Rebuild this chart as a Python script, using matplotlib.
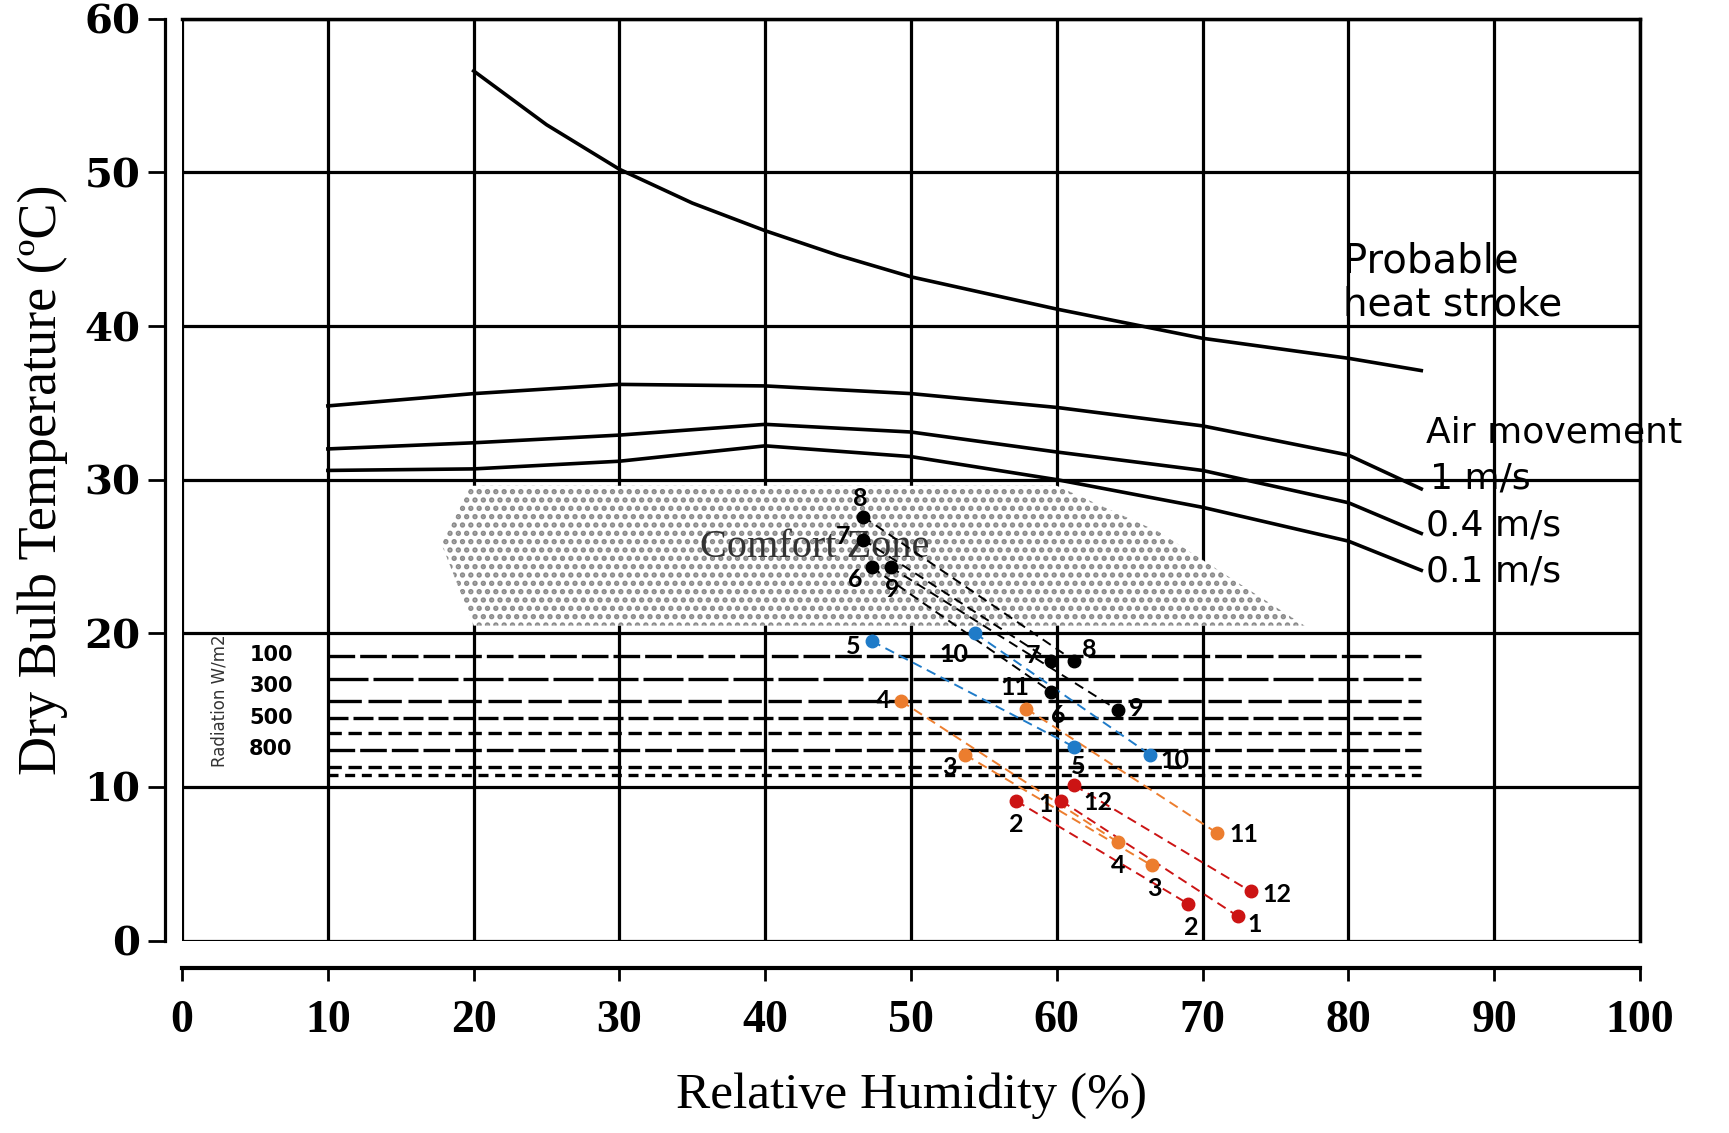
import numpy as np
import matplotlib
matplotlib.use("Agg")
import matplotlib.pyplot as plt
from matplotlib.patches import Polygon

# ---- chart data ----
heat_rh = [20, 25, 30, 35, 40, 45, 50, 60, 70, 80, 85]
heat_t = [56.6, 53.1, 50.2, 48.0, 46.2, 44.6, 43.2, 41.1, 39.2, 37.9, 37.1]

air_rh = [10, 20, 30, 40, 50, 60, 70, 80, 85]
air_1 = [34.8, 35.6, 36.2, 36.1, 35.6, 34.7, 33.5, 31.6, 29.4]
air_04 = [32.0, 32.4, 32.9, 33.6, 33.1, 31.8, 30.6, 28.5, 26.5]
air_01 = [30.6, 30.7, 31.2, 32.2, 31.5, 30.0, 28.2, 26.0, 24.1]

comfort_rh = [17.8, 19.8, 60.0, 67.0, 77.0, 20.0]
comfort_t = [25.8, 29.6, 29.6, 26.6, 20.5, 20.5]

radiation_t = [18.5, 17.0, 15.6, 14.5, 13.5, 12.4, 11.3, 10.8]
radiation_labels = ["100", "300", "500", "800"]
radiation_label_t = [18.6, 16.6, 14.5, 12.5]

black_ids = ["6", "7", "8", "9"]
black_rh_a = [47.3, 46.7, 46.7, 48.6]
black_t_a = [24.3, 26.1, 27.6, 24.3]
black_rh_b = [59.6, 59.6, 61.2, 64.2]
black_t_b = [16.2, 18.2, 18.2, 15.0]

blue_ids = ["5", "10"]
blue_rh_a = [47.3, 54.4]
blue_t_a = [19.5, 20.0]
blue_rh_b = [61.2, 66.4]
blue_t_b = [12.6, 12.1]

orange_ids = ["3", "4", "11"]
orange_rh_a = [53.7, 49.3, 57.9]
orange_t_a = [12.1, 15.6, 15.1]
orange_rh_b = [66.5, 64.2, 71.0]
orange_t_b = [4.9, 6.4, 7.0]

red_ids = ["1", "2", "12"]
red_rh_a = [60.3, 57.2, 61.2]
red_t_a = [9.1, 9.1, 10.1]
red_rh_b = [72.4, 69.0, 73.3]
red_t_b = [1.6, 2.4, 3.2]

# label offsets (points) for start / end points
offs = {
    ("k", "6"): ((-12, -9), (5, -17)),
    ("k", "7"): ((-14, 2), (-13, 4)),
    ("k", "8"): ((-2, 13), (11, 8)),
    ("k", "9"): ((1, -16), (13, 1)),
    ("b", "5"): ((-13, -4), (3, -14)),
    ("b", "10"): ((-15, -15), (18, -4)),
    ("o", "3"): ((-11, -9), (2, -17)),
    ("o", "4"): ((-13, 0), (0, -17)),
    ("o", "11"): ((-8, 15), (19, -1)),
    ("r", "1"): ((-11, -3), (12, -6)),
    ("r", "2"): ((0, -17), (2, -17)),
    ("r", "12"): ((17, -12), (19, -2)),
}

serif = "Liberation Serif"
sans = "DejaVu Sans"
num_font = "Lato"

fig = plt.figure(figsize=(17.29, 11.33), dpi=100)
ax = fig.add_axes([0.1053, 0.1698, 0.8432, 0.8137])
ax.set_xlim(0, 100)
ax.set_ylim(0, 60)

# grid / frame
for x in range(0, 101, 10):
    ax.axvline(x, color="black", lw=2.3, zorder=1)
for y in range(0, 61, 10):
    ax.axhline(y, color="black", lw=2.3, zorder=1)

ax.spines["top"].set_linewidth(2.5)
ax.spines["right"].set_linewidth(2.5)
ax.spines["left"].set_position(("outward", 12))
ax.spines["bottom"].set_position(("outward", 20))
ax.spines["left"].set_linewidth(2.3)
ax.spines["bottom"].set_linewidth(3.0)
ax.set_xticks(range(0, 101, 10))
ax.set_yticks(range(0, 61, 10))
ax.tick_params(axis="y", direction="out", length=12, width=2, pad=6)
ax.tick_params(axis="x", direction="out", length=9, width=2, pad=14)
for lab in ax.get_yticklabels():
    lab.set_fontfamily("DejaVu Serif")
    lab.set_fontweight("bold")
    lab.set_fontsize(29)
for lab in ax.get_xticklabels():
    lab.set_fontfamily(serif)
    lab.set_fontweight("bold")
    lab.set_fontsize(33)

ax.set_xlabel("Relative Humidity (%)", fontfamily=serif, fontsize=37, labelpad=22)
ax.set_ylabel("Dry Bulb Temperature (ºC)", fontfamily=serif, fontsize=39, labelpad=12)

# comfort zone (stippled)
plt.rcParams["hatch.linewidth"] = 2.6
zone = Polygon(list(zip(comfort_rh, comfort_t)), closed=True, facecolor="white",
               edgecolor="#8a8a8a", linewidth=0, hatch="..", zorder=2)
ax.add_patch(zone)
ax.text(43.4, 25.6, "Comfort Zone", fontfamily=serif, fontsize=29,
        color="#333333", ha="center", va="center", zorder=3)

# heat stroke and air movement curves
ax.plot(heat_rh, heat_t, color="black", lw=2.6, zorder=3)
for t in (air_1, air_04, air_01):
    ax.plot(air_rh, t, color="black", lw=2.6, zorder=3)

ax.text(79.6, 44.2, "Probable", fontfamily=sans, fontsize=29, ha="left", va="center")
ax.text(79.6, 41.4, "heat stroke", fontfamily=sans, fontsize=28, ha="left", va="center")
ax.text(85.3, 33.1, "Air movement", fontfamily=sans, fontsize=26, ha="left", va="center")
ax.text(85.6, 30.1, "1 m/s", fontfamily=sans, fontsize=26, ha="left", va="center")
ax.text(85.3, 27.0, "0.4 m/s", fontfamily=sans, fontsize=26, ha="left", va="center")
ax.text(85.3, 24.0, "0.1 m/s", fontfamily=sans, fontsize=26, ha="left", va="center")

# radiation lines
dashes = [(8, 1.5), (12, 1.5), (10, 2), (6, 1.5), (4, 2), (8, 1.5), (4, 2), (3, 2)]
for t, d in zip(radiation_t, dashes):
    ax.plot([10, 85], [t, t], color="black", lw=2.4, dashes=d, zorder=2)
for lab, t in zip(radiation_labels, radiation_label_t):
    ax.text(6.1, t, lab, fontfamily=sans, fontweight="bold", fontsize=15,
            ha="center", va="center")
ax.text(2.6, 15.6, "Radiation W/m2", fontfamily=sans, fontsize=12, rotation=90,
        ha="center", va="center", color="#333333")

# measured points
groups = [
    ("k", "#000000", black_ids, black_rh_a, black_t_a, black_rh_b, black_t_b),
    ("b", "#1F7BC8", blue_ids, blue_rh_a, blue_t_a, blue_rh_b, blue_t_b),
    ("o", "#EC7D2E", orange_ids, orange_rh_a, orange_t_a, orange_rh_b, orange_t_b),
    ("r", "#CC1414", red_ids, red_rh_a, red_t_a, red_rh_b, red_t_b),
]
for key, col, ids, xa, ya, xb, yb in groups:
    for i, name in enumerate(ids):
        ax.plot([xa[i], xb[i]], [ya[i], yb[i]], color=col, lw=1.4,
                dashes=(5, 3), zorder=4)
        ax.plot([xa[i], xb[i]], [ya[i], yb[i]], "o", color=col, ms=9, zorder=5)
        oa, ob = offs[(key, name)]
        for (px, py), o in (((xa[i], ya[i]), oa), ((xb[i], yb[i]), ob)):
            ax.annotate(name, (px, py), xytext=o, textcoords="offset points",
                        ha="center", va="center", fontfamily=num_font,
                        fontweight="bold", fontsize=18, zorder=6)

fig.savefig("out.png", dpi=100)
